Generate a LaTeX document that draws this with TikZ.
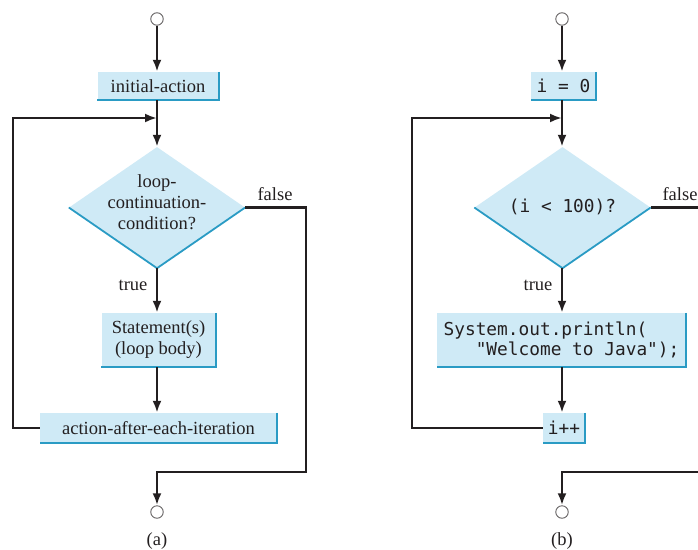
\documentclass[tikz,border=0pt]{standalone}
\usepackage{fontspec}
\setmainfont{Liberation Serif}
\setmonofont{DejaVu Sans Mono}
\usetikzlibrary{arrows.meta,shapes.geometric}
\definecolor{boxfill}{HTML}{CFEAF6}
\definecolor{edge}{HTML}{2A9BC4}
\definecolor{ink}{HTML}{231F20}
\begin{document}
\begin{tikzpicture}[x=1pt,y=-1pt,
  txt/.style={font=\fontsize{18.5}{21}\selectfont, text=ink},
  mono/.style={font=\ttfamily\fontsize{17.8}{20}\selectfont, text=ink},
  pbox/.style={fill=boxfill, inner sep=0pt, align=center},
  dia/.style={diamond, fill=boxfill, inner sep=0pt, minimum width=176pt, minimum height=121pt},
  term/.style={circle, draw=ink!70, line width=0.9pt, fill=white, minimum size=12.5pt, inner sep=0pt},
  shadowline/.style={draw=edge, line width=2.4pt},
  flow/.style={draw=ink, line width=2.8pt, -{Latex[length=12pt,width=9pt]}}
]
\useasboundingbox (0,0) rectangle (698,549);
\clip (0,0) rectangle (698,549);

% ---------------- (a) ----------------
\node[term] (sa) at (157,19) {};
\node[pbox, txt, minimum width=121pt, minimum height=28pt] (ia) at (158,86) {initial-action};
\coordinate (ja) at (157,118);
\node[dia] (da) at (157,207.5) {};
\node[txt, align=center] (dta) at (157,202) {loop-\\continuation-\\condition?};
\node[pbox, txt, minimum width=114pt, minimum height=54pt] (sta) at (158.5,340) {Statement(s)\\(loop body)};
\node[pbox, txt, minimum width=237pt, minimum height=30pt] (aa) at (158.5,428) {action-after-each-iteration};
\node[term] (ea) at (157,512) {};
\node[txt] (fa) at (275,194) {false};
\node[txt] (ta) at (133,285) {true};
\node[txt] (la) at (157,541) {(a)};
\coordinate (ra) at (306,207.5);
\coordinate (rba) at (306,472);
\coordinate (lba) at (157,472);
\coordinate (lla) at (13,428);
\coordinate (lta) at (13,118);

\draw[shadowline] (ia.north east) -- (ia.south east) -- (ia.south west);
\draw[shadowline] (sta.north east) -- (sta.south east) -- (sta.south west);
\draw[shadowline] (aa.north east) -- (aa.south east) -- (aa.south west);
\draw[draw=edge, line width=1.8pt] (da.west) -- (da.south) -- (da.east);

\draw[flow] (sa.south) -- (ia.north -| sa);
\draw[flow] (ia.south -| sa) -- (da.north);
\draw[flow] (da.south) -- (sta.north -| da);
\draw[flow] (sta.south -| da) -- (aa.north -| da);
\draw[flow] (aa.west) -- (aa.west -| lla) -- (lta) -- (ja);
\draw[flow] (da.east) -- (ra) -- (rba) -- (lba) -- (ea.north);

% ---------------- (b) ----------------
\node[term] (sb) at (562,19) {};
\node[pbox, mono, minimum width=65pt, minimum height=28pt] (ib) at (563.5,86) {i = 0};
\coordinate (jb) at (562,118);
\node[dia] (db) at (562.5,207.5) {};
\node[mono] (dtb) at (562.5,207) {(i < 100)?};
\node[pbox, mono, minimum width=249pt, minimum height=54pt, align=left] (stb) at (561.5,340) {System.out.println(\\\phantom{xxx}"Welcome to Java");};
\node[pbox, mono, minimum width=42pt, minimum height=30pt] (ab) at (564,428) {i++};
\node[term] (eb) at (562,512) {};
\node[txt] (fb) at (680,194) {false};
\node[txt] (tb) at (538,285) {true};
\node[txt] (lb) at (562,541) {(b)};
\coordinate (rb) at (712,207.5);
\coordinate (rbb) at (712,472);
\coordinate (lbb) at (562,472);
\coordinate (llb) at (412,428);
\coordinate (ltb) at (412,118);

\draw[shadowline] (ib.north east) -- (ib.south east) -- (ib.south west);
\draw[shadowline] (stb.north east) -- (stb.south east) -- (stb.south west);
\draw[shadowline] (ab.north east) -- (ab.south east) -- (ab.south west);
\draw[draw=edge, line width=1.8pt] (db.west) -- (db.south) -- (db.east);

\draw[flow] (sb.south) -- (ib.north -| sb);
\draw[flow] (ib.south -| sb) -- (db.north -| sb);
\draw[flow] (db.south -| sb) -- (stb.north -| sb);
\draw[flow] (stb.south -| sb) -- (ab.north -| sb);
\draw[flow] (ab.west) -- (ab.west -| llb) -- (ltb) -- (jb);
\draw[flow] (db.east) -- (db.east -| rb) -- (rbb) -- (lbb) -- (eb.north);
\end{tikzpicture}
\end{document}
